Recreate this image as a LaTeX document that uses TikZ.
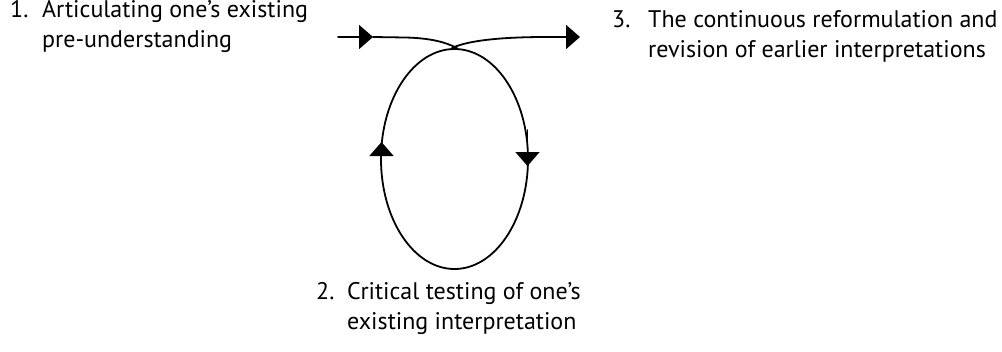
\documentclass[tikz,border=0pt]{standalone}
\usepackage{fontspec}
\setmainfont{PT Sans}
\usetikzlibrary{arrows.meta,shapes.geometric}
\tikzset{
  lbl/.style={anchor=base west, inner sep=0pt, font=\fontsize{24}{29.5}\selectfont},
  flow/.style={line width=1.8pt, line cap=round},
  tip/.style={-{Triangle[length=14pt,width=24pt]}},
}
\begin{document}
\begin{tikzpicture}[x=1pt,y=-1pt]
\useasboundingbox (0,0) rectangle (1002,351);
% texts
\node[lbl] (t1) at (10,33) {\begin{tabular}{@{}p{32pt}@{}l@{}}1. & Articulating one’s existing\\ & pre-understanding\end{tabular}};
\node[lbl] (t3) at (612,43) {\begin{tabular}{@{}p{36pt}@{}l@{}}3. & The continuous reformulation and\\ & revision of earlier interpretations\end{tabular}};
\node[lbl] (t2) at (316,315) {\begin{tabular}{@{}p{31pt}@{}l@{}}2. & Critical testing of one’s\\ & existing interpretation\end{tabular}};
% loop
\node[draw, line width=1.8pt, ellipse, minimum width=147pt, minimum height=220pt, inner sep=0pt] (loop) at (454.5,159) {};
% incoming
\coordinate (inA) at (338,37);
\coordinate (inB) at (373,37);
\coordinate (top) at (457,48);
\coordinate (outA) at (452,48);
\coordinate (outB) at (580,37);
\draw[flow, tip] (inA) -- (inB);
\draw[flow] (inB) -- (405,37.5) .. controls (430,38) and (445,42) .. (top);
\draw[flow, tip] (outA) .. controls (465,42) and (490,37.5) .. (540,37) -- (outB);
% direction arrows on loop
\coordinate (l1) at (381.5,176);
\coordinate (l2) at (381.5,142);
\coordinate (r1) at (527.5,130);
\coordinate (r2) at (527.5,166);
\draw[flow, tip] (l1) -- (l2);
\draw[flow, tip] (r1) -- (r2);
\end{tikzpicture}
\end{document}
